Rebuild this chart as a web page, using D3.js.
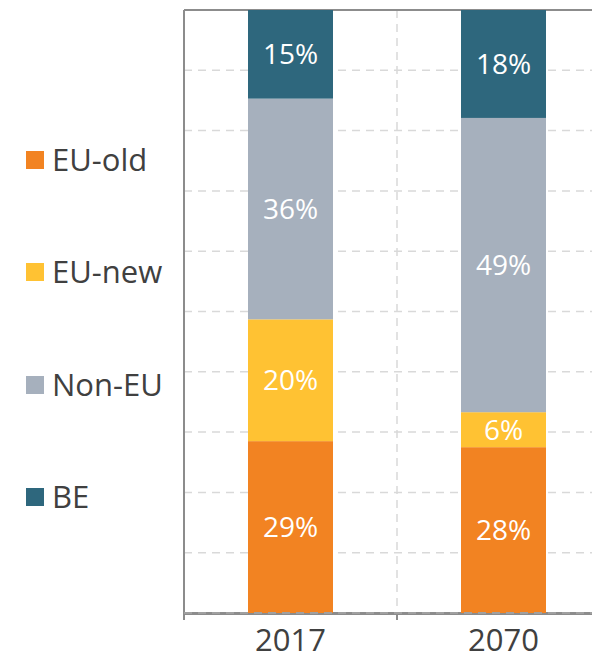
<!DOCTYPE html>
<html><head><meta charset="utf-8">
<script src="https://cdn.jsdelivr.net/npm/d3@7"></script>
<style>body{margin:0;background:#fff;} svg{display:block;}</style>
</head><body>
<svg id="chart" width="592" height="661"></svg>
<script>
const years = ["2017", "2070"];
const seriesNames = ["EU-old", "EU-new", "Non-EU", "BE"];
const colors = ["#F28322", "#FFC233", "#A6B0BD", "#2E677D"];
// segment shares (% of total)
const euOld = [28.5, 27.5];
const euNew = [20.2, 5.8];
const nonEU = [36.6, 48.8];
const be = [14.7, 17.9];
// printed labels
const euOldLabels = ["29%", "28%"];
const euNewLabels = ["20%", "6%"];
const nonEULabels = ["36%", "49%"];
const beLabels = ["15%", "18%"];
const yTicks = [0, 10, 20, 30, 40, 50, 60, 70, 80, 90, 100];

const seriesVals = [euOld, euNew, nonEU, be];
const seriesLabels = [euOldLabels, euNewLabels, nonEULabels, beLabels];

const svg = d3.select("#chart");
const font = "'Open Sans', sans-serif";
const pL = 184, pT = 10, pB = 613, pR = 610;

const x = d3.scaleBand().domain(years).range([pL, pR]);
const y = d3.scaleLinear().domain([0, 100]).range([pB, pT]);
const barW = 85;

// gridlines
const g = svg.append("g");
g.selectAll("line.h").data(yTicks.slice(1, -1)).join("line")
  .attr("x1", pL).attr("x2", pR)
  .attr("y1", d => y(d)).attr("y2", d => y(d))
  .attr("stroke", "#d9d9d9").attr("stroke-width", 1.5).attr("stroke-dasharray", "8,6");
g.selectAll("line.v").data(years).join("line")
  .attr("x1", d => x(d) + x.bandwidth()).attr("x2", d => x(d) + x.bandwidth())
  .attr("y1", pT).attr("y2", pB)
  .attr("stroke", "#d9d9d9").attr("stroke-width", 1.5).attr("stroke-dasharray", "8,6");

// frame (left + top)
svg.append("line").attr("x1", pL).attr("x2", pR).attr("y1", pT).attr("y2", pT)
  .attr("stroke", "#8c8c8c").attr("stroke-width", 2);
svg.append("line").attr("x1", pL).attr("x2", pL).attr("y1", pT).attr("y2", pB)
  .attr("stroke", "#8c8c8c").attr("stroke-width", 2);

// x axis
const xAxis = d3.axisBottom(x).tickSize(0).tickPadding(16);
const ax = svg.append("g").attr("transform", `translate(0,${pB})`).call(xAxis);
ax.select(".domain").attr("stroke", "#8c8c8c").attr("stroke-width", 3);
ax.selectAll(".tick text").attr("font-family", font).attr("font-size", 31).attr("fill", "#404040");
// category boundary ticks
svg.append("g").selectAll("line").data([pL].concat(years.map(d => x(d) + x.bandwidth()))).join("line")
  .attr("x1", d => d).attr("x2", d => d).attr("y1", pB).attr("y2", pB + 7)
  .attr("stroke", "#8c8c8c").attr("stroke-width", 2);

// stacked bars
const table = years.map((yr, i) => {
  const o = { year: yr };
  seriesNames.forEach((s, k) => o[s] = seriesVals[k][i]);
  return o;
});
const stack = d3.stack().keys(seriesNames)(table);
stack.forEach((layer, k) => {
  const lg = svg.append("g");
  lg.selectAll("rect").data(layer).join("rect")
    .attr("x", d => x(d.data.year) + (x.bandwidth() - barW) / 2)
    .attr("width", barW)
    .attr("y", d => y(d[1]))
    .attr("height", d => y(d[0]) - y(d[1]))
    .attr("fill", colors[k]);
  lg.selectAll("text").data(layer).join("text")
    .attr("x", d => x(d.data.year) + x.bandwidth() / 2)
    .attr("y", d => (y(d[0]) + y(d[1])) / 2)
    .attr("dy", "0.36em")
    .attr("text-anchor", "middle")
    .attr("font-family", font).attr("font-size", 28).attr("fill", "#ffffff")
    .text((d, i) => seriesLabels[k][i]);
});

// dashed baseline over bars
svg.append("line").attr("x1", pL).attr("x2", pR).attr("y1", pB).attr("y2", pB)
  .attr("stroke", "#a0a0a0").attr("stroke-width", 2).attr("stroke-dasharray", "8,6");

// legend
const legendY = [160, 272, 385, 497];
const leg = svg.append("g").selectAll("g").data(seriesNames).join("g")
  .attr("transform", (d, i) => `translate(26,${legendY[i]})`);
leg.append("rect").attr("x", 0).attr("y", -9).attr("width", 18).attr("height", 18)
  .attr("fill", (d, i) => colors[i]);
leg.append("text").attr("x", 26).attr("y", 0).attr("dy", "0.36em")
  .attr("font-family", font).attr("font-size", 31).attr("fill", "#404040")
  .text(d => d);
</script>
</body></html>
